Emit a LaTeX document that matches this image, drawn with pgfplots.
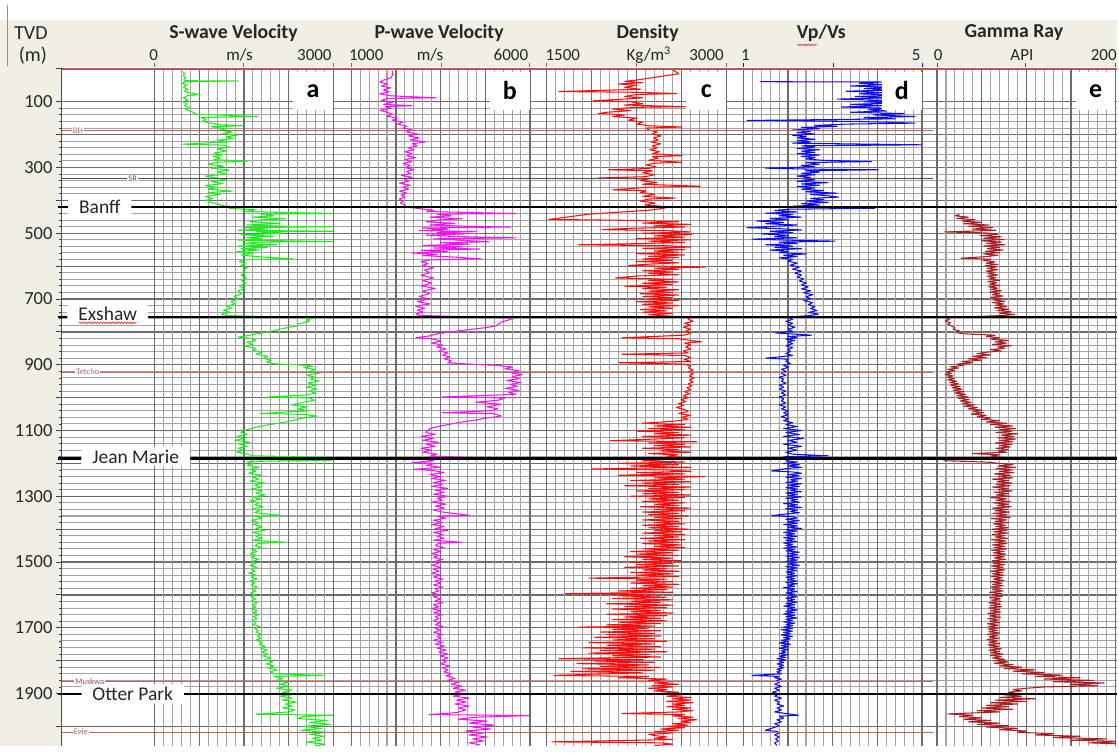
\documentclass[border=0pt]{standalone}
\usepackage{pgfplots}
\pgfplotsset{compat=1.18}
\usepackage{fontspec}
\setmainfont{Carlito}
\usetikzlibrary{decorations.pathmorphing}

\definecolor{hdrbg}{RGB}{240,238,229}
\definecolor{gridminor}{RGB}{163,163,163}
\definecolor{gridmajor}{RGB}{108,108,108}
\definecolor{vsgreen}{RGB}{30,238,30}
\definecolor{vpmag}{RGB}{245,20,245}
\definecolor{rhored}{RGB}{250,15,15}
\definecolor{ratioblue}{RGB}{15,15,235}
\definecolor{grbrown}{RGB}{168,32,36}
\definecolor{topred}{RGB}{190,85,85}
\definecolor{markred}{RGB}{200,95,95}
\definecolor{winblue}{RGB}{120,150,190}

\pgfplotsset{
  logtrack/.style={
    scale only axis, height=679pt, anchor=north west,
    ymin=0, ymax=2061, y dir=reverse, enlargelimits=false,
    ytick=\empty, xticklabels={}, yticklabels={},
    axis line style={draw=none}, tick style={draw=none},
    minor x tick num=4, grid=both,
    major grid style={gridmajor, line width=1.25pt},
    minor grid style={gridminor, line width=1.05pt},
  },
  curve/.style={#1, line width=1.05pt, line join=round},
}
\tikzset{
  trackletter/.style={fill=white, anchor=north east, minimum width=40pt,
    minimum height=38pt, inner sep=0pt, font=\bfseries\fontsize{26}{26}\selectfont},
}

\begin{document}
\begin{tikzpicture}
\begin{scope}[x=1pt,y=-1pt]
  \useasboundingbox (0,0) rectangle (1119,748);
  \fill[white] (0,0) rectangle (1119,748);
  \fill[hdrbg] (0,20) rectangle (1119,67);
  \fill[hdrbg] (0,67) rectangle (62,748);
  \draw[winblue, line width=0.8pt] (7,5) -- (7,66);
\end{scope}

% depth axis with the horizontal grid
\begin{axis}[
  scale only axis, at={(62pt,-69pt)}, anchor=north west,
  width=1057pt, height=679pt,
  xmin=62, xmax=1119, ymin=0, ymax=2061, y dir=reverse, enlargelimits=false,
  axis x line=none, axis y line*=left,
  y axis line style={black!70, line width=0.8pt},
  xtick=\empty,
  ytick={100,300,...,1900},
  extra y ticks={0,200,...,2000}, extra y tick labels={},
  minor y tick num=9,
  ymajorgrids, yminorgrids,
  major grid style={gridmajor, line width=1.25pt},
  minor grid style={gridminor, line width=1.05pt},
  tick align=outside, major tick length=6pt, minor tick length=3pt,
  tick style={black!75, line width=0.8pt},
  /pgf/number format/assume math mode=true,
  /pgf/number format/1000 sep={},
  yticklabel style={font=\fontsize{18.5}{19}\selectfont, black!85},
]
\end{axis}

% a: S-wave velocity
\begin{axis}[logtrack, at={(155pt,-69pt)}, width=179pt,
  xmin=0, xmax=3000, xtick={0,750,1500,2250,3000}]
\addplot[curve=vsgreen] coordinates {
(470,8) (500,14) (480,20) (520,26) (490,32) (510,36) (1400,37) (520,39) (460,44) (540,50) (480,56) (560,62) (500,68) (600,74) (760,78) (540,82) (480,88) (560,94) (470,100) (540,106) (500,112) (580,118) (520,124) (620,130) (700,138) (1735,145) (780,148) (860,154) (800,160) (950,165) (1100,170) (1470,173) (950,176) (1200,182) (1080,187) (1300,192) (1150,197) (1380,202) (1200,207) (1330,212) (1050,217) (1250,222) (470,229) (1150,232) (1250,238) (1050,244) (1200,250) (1000,256) (1150,261) (980,266) (1100,271) (1000,276) (1550,281) (1050,284) (900,290) (1150,296) (950,302) (1250,308) (1050,314) (1200,320) (850,326) (1000,331) (1200,337) (950,343) (1150,349) (850,355) (1050,361) (900,366) (1300,372) (900,376) (1100,382) (850,388) (980,394) (860,400) (950,406) (1050,411) (1150,416) (1300,420)
(1250,424) (1700,429) (1500,434) (3000,440) (1800,442) (2000,447) (1650,451) (2200,456) (1750,460) (1600,465) (2100,470) (1550,475) (2250,479) (3000,480) (1500,483) (1900,487) (1400,491) (3000,494) (1700,496) (2150,500) (1450,505) (2000,509) (1550,513) (1800,517) (1400,521) (3000,525) (1750,527) (1500,531) (2050,535) (1400,539) (1900,543) (1450,547) (1750,551) (1380,556) (1650,561) (1450,566) (1700,571) (2330,578) (1500,580) (1420,586) (1520,592) (1450,598) (1550,605) (1480,612) (1520,620) (1450,628) (1540,636) (1460,644) (1530,652) (1420,660) (1500,668) (1400,676) (1460,684) (1330,692) (1420,700) (1280,708) (1350,715) (1200,722) (1300,728) (1150,734) (1250,740) (1120,746) (1180,750)
(2650,758) (2550,764) (2600,768) (2400,776) (2390,782) (2200,788) (2050,794) (1900,800) (1750,805) (1600,810) (1400,816) (1620,820) (1700,826) (1550,832) (1650,838) (1520,844) (1700,850) (1650,856) (1800,862) (1700,868) (1900,874) (1820,880) (1950,886) (1880,892) (2000,897) (2400,900) (2650,904) (2500,909) (2700,914) (2600,920) (2750,926) (2550,932) (2700,938) (2620,944) (2750,950) (2580,956) (2700,962) (2550,968) (2720,974) (2600,980) (2700,986) (2550,992) (1900,998) (2600,1001) (2680,1008) (2500,1014) (2300,1022) (2550,1028) (2400,1034) (2600,1040) (1780,1048) (2500,1051) (2720,1056) (2500,1062) (2350,1068) (2200,1074) (2000,1080) (1800,1086) (1650,1092) (1500,1100) (1450,1106) (1550,1112) (1380,1118) (1500,1124) (1350,1130) (1600,1136) (1420,1142) (1550,1148) (1400,1154) (1500,1160) (1380,1166) (1550,1172) (1650,1177) (3000,1182) (1500,1185)
(2950,1191) (1550,1194) (1650,1200) (1550,1206) (1750,1212) (1600,1218) (1700,1224) (1580,1230) (1800,1236) (1650,1242) (1750,1248) (1600,1254) (1850,1260) (1680,1266) (1780,1272) (1620,1278) (1800,1284) (1700,1290) (1850,1296) (1650,1302) (1780,1308) (1600,1314) (1750,1320) (1680,1326) (1820,1332) (1640,1338) (1760,1344) (1680,1350) (2100,1358) (1700,1361) (1800,1367) (1620,1373) (1750,1380) (1660,1386) (1800,1392) (1700,1398) (1850,1404) (1650,1410) (1780,1416) (1700,1422) (1800,1428) (1650,1434) (2200,1440) (1750,1443) (1680,1450) (1800,1456) (1620,1462) (1720,1468) (1600,1474) (1700,1480) (1620,1486) (1750,1492) (1640,1498) (1700,1504) (1600,1510) (1720,1516) (1630,1522) (1680,1528) (1580,1534) (1700,1540) (1620,1546) (1720,1552) (1600,1558) (1680,1564) (1620,1570) (1720,1576) (1640,1582) (1700,1588) (1610,1594) (1690,1600) (1620,1606) (1700,1612) (1630,1618) (1720,1624) (1650,1630) (1700,1636) (1620,1642) (1720,1648) (1650,1654) (1740,1660) (1660,1666) (1720,1672) (1640,1678) (1700,1684) (1660,1690) (1760,1696) (1680,1702) (1740,1708) (1700,1714) (1800,1720) (1720,1726) (1780,1732) (1700,1738) (1800,1744) (1760,1750) (1850,1756) (1780,1762) (1880,1768) (1800,1774) (1900,1780) (1820,1786) (1950,1792) (1850,1798) (1980,1804) (1880,1810) (2000,1816) (1900,1822) (2050,1828) (1950,1834) (2000,1840) (2830,1845) (2000,1848) (2150,1854) (2050,1860) (2250,1866) (2100,1872) (2250,1878) (2050,1884) (2300,1890) (2150,1896) (2350,1902) (2100,1908) (2300,1914) (2150,1920) (2380,1926) (2200,1932) (2300,1938) (2150,1944) (2350,1950) (2250,1956) (1700,1963) (3000,1966) (2500,1970) (2400,1976) (2900,1982) (2600,1988) (2950,1994) (2500,2000) (2800,2006) (2450,2012) (2900,2018) (2600,2024) (2850,2030) (2650,2036) (2800,2042) (2550,2048) (2850,2054) (2700,2060)
};
\node[trackletter] at (axis cs:3000,9) {a};
\end{axis}

% b: P-wave velocity
\begin{axis}[logtrack, at={(352pt,-69pt)}, width=179pt,
  xmin=1000, xmax=6000, xtick={1000,2250,3500,4750,6000}]
\addplot[curve=vpmag] coordinates {
(2150,5) (2150,20) (2100,28) (1900,34) (1800,40) (2000,46) (1850,52) (2100,58) (1900,64) (2050,70) (1800,76) (2100,82) (3365,88) (2000,90) (1850,96) (2150,102) (1900,108) (2700,112) (1950,115) (2100,120) (1800,126) (2000,132) (2150,138) (2000,144) (2300,150) (2150,156) (2434,162) (2300,168) (2550,174) (2450,180) (2700,186) (2550,192) (2850,198) (2600,204) (2900,210) (2650,216) (3085,222) (2700,228) (2850,234) (2600,240) (2750,246) (2500,252) (2700,258) (2550,264) (2800,270) (2500,276) (2700,282) (2450,288) (2650,294) (2500,300) (2750,306) (2550,312) (2650,318) (2400,324) (2700,330) (2500,336) (2600,342) (2350,348) (2650,354) (2450,360) (2600,366) (2350,372) (2550,378) (2400,384) (2500,390) (2340,396) (2450,402) (2380,408) (2500,414) (2527,420)
(2900,425) (3300,430) (3100,434) (5600,440) (3400,442) (3800,447) (3200,451) (4100,456) (3400,460) (3100,465) (3900,470) (3200,475) (4300,479) (5450,481) (3000,484) (3700,488) (2900,492) (4500,495) (3400,498) (4200,502) (3100,506) (3900,510) (5600,514) (3300,517) (4000,521) (4850,526) (3500,529) (4300,533) (3000,537) (4100,541) (3300,545) (4600,548) (2950,552) (3700,556) (2700,560) (3400,564) (3000,568) (3800,572) (4650,578) (3200,581) (2950,586) (3150,592) (3000,598) (3300,605) (3050,612) (3200,620) (2950,628) (3300,636) (3000,644) (3250,652) (2950,660) (3350,668) (3000,676) (3200,684) (2900,692) (3150,700) (2850,708) (3200,715) (2800,722) (3050,728) (2850,734) (3000,740) (2810,746) (2900,750)
(5550,758) (5400,764) (5200,770) (5040,782) (4700,788) (4200,794) (3800,800) (3400,806) (3200,812) (2806,818) (3300,822) (3500,828) (3250,834) (3550,840) (3400,846) (3650,852) (3450,858) (3700,864) (3550,870) (3750,876) (3600,882) (3800,888) (3700,894) (4300,898) (5100,902) (5500,907) (5300,912) (5700,918) (5450,924) (5785,930) (5500,936) (5700,942) (5350,948) (5750,954) (5450,960) (5650,966) (5300,972) (5700,978) (5400,984) (5600,990) (3550,998) (5300,1001) (5100,1008) (4500,1014) (5200,1020) (4800,1028) (5100,1034) (4900,1040) (3550,1046) (5000,1049) (5200,1056) (4800,1062) (4500,1068) (4100,1074) (3800,1080) (3500,1086) (3200,1094) (3085,1106) (3350,1112) (2950,1118) (3300,1124) (3000,1130) (3450,1136) (3100,1142) (3350,1148) (2950,1154) (3250,1160) (3000,1166) (3400,1172) (3200,1178) (5600,1185) (3100,1188)
(3300,1192) (2713,1198) (3350,1200) (3100,1206) (3500,1212) (2750,1218) (3300,1222) (3600,1228) (3200,1234) (3500,1240) (3250,1246) (3650,1252) (3300,1258) (3550,1264) (3250,1270) (3700,1276) (3350,1282) (3600,1288) (3300,1294) (3700,1300) (3400,1306) (3550,1312) (3250,1318) (3650,1324) (3350,1330) (3600,1336) (3300,1342) (3550,1348) (4300,1358) (3400,1361) (3650,1367) (3300,1373) (3550,1380) (3250,1386) (3600,1392) (3350,1398) (3700,1404) (3300,1410) (3550,1416) (3400,1422) (3600,1428) (3300,1434) (4100,1440) (3450,1443) (3350,1450) (3600,1456) (3300,1462) (3500,1468) (3250,1474) (3450,1480) (3300,1486) (3550,1492) (3350,1498) (3450,1504) (3250,1510) (3500,1516) (3300,1522) (3450,1528) (3250,1534) (3500,1540) (3300,1546) (3550,1552) (3350,1558) (3500,1564) (3300,1570) (3550,1576) (3350,1582) (3450,1588) (3250,1594) (3500,1600) (3300,1606) (3500,1612) (3350,1618) (3550,1624) (3300,1630) (3450,1636) (3250,1642) (3500,1648) (3300,1654) (3550,1660) (3350,1666) (3450,1672) (3300,1678) (3500,1684) (3350,1690) (3550,1696) (3350,1702) (3500,1708) (3300,1714) (3550,1720) (3400,1726) (3500,1732) (3300,1738) (3550,1744) (3350,1750) (3600,1756) (3400,1762) (3650,1768) (3450,1774) (3700,1780) (3500,1786) (3700,1792) (3550,1798) (3650,1804) (3500,1810) (3750,1816) (3550,1822) (3700,1828) (3600,1834) (3800,1840) (3650,1846) (3900,1854) (3700,1860) (4000,1866) (3800,1872) (4100,1878) (3850,1884) (4200,1890) (3900,1896) (4150,1902) (3850,1908) (4300,1914) (3950,1920) (4200,1926) (3900,1932) (4300,1938) (4000,1944) (4200,1950) (3950,1958) (3178,1964) (5970,1967) (4500,1972) (4000,1978) (4800,1984) (4300,1990) (5000,1996) (4400,2002) (4900,2008) (4200,2014) (4700,2020) (4300,2026) (4800,2032) (4400,2038) (4700,2044) (4300,2050) (4600,2056)
};
\node[trackletter] at (axis cs:6000,9) {b};
\end{axis}

% c: density
\begin{axis}[logtrack, at={(548pt,-69pt)}, width=180pt,
  xmin=1500, xmax=3000, xtick={1500,1875,2250,2625,3000}]
\addplot[curve=rhored] coordinates {
(2540,0) (2600,15) (2250,34) (2150,38) (2300,42) (2100,46) (2250,50) (2150,56) (2280,62) (1600,69) (2200,71) (2586,75) (2250,78) (2150,84) (2300,88) (2100,93) (1890,97) (2200,100) (2300,106) (2150,110) (2655,115) (2250,117) (2050,122) (2200,127) (2000,132) (1930,136) (2150,140) (2050,145) (2250,150) (2180,156) (2300,162) (2250,168) (2350,173) (2628,177) (2330,180) (2350,186) (2420,192) (2380,198) (2450,204) (2390,210) (2430,216) (2370,222) (2450,228) (2380,234) (2420,240) (2360,246) (2440,252) (2380,258) (2627,264) (2380,267) (2430,272) (2350,278) (2627,284) (2400,287) (2330,292) (2410,298) (2350,303) (2016,307) (2380,310) (2300,316) (2400,322) (2320,328) (1933,332) (2350,335) (2280,340) (2420,346) (2300,351) (2780,357) (2350,360) (2050,368) (2330,371) (2280,376) (2400,382) (2300,388) (2572,393) (2350,396) (2280,402) (2400,408) (2320,414) (2450,418) (2480,424) (2350,430) (1850,442) (1516,458)
(2250,461) (2600,465) (2300,469) (2700,473) (2400,477) (2650,481) (2200,485) (1960,489) (2500,492) (2700,496) (2300,500) (2711,504) (2400,508) (2650,512) (2250,516) (2700,520) (2350,524) (2650,528) (2200,532) (1766,535) (2500,538) (2700,542) (2300,546) (2650,550) (2400,554) (2600,558) (2250,562) (2650,566) (2350,570) (2600,574) (2300,578) (2550,582) (2250,586) (2600,590) (2350,594) (2183,598) (2822,603) (2400,606) (2600,610) (2300,614) (2550,618) (2350,622) (2600,626) (2250,630) (2072,636) (2550,640) (2350,644) (2600,648) (2300,652) (2550,656) (2150,661) (2500,664) (2300,668) (2600,672) (2350,676) (2550,680) (2280,684) (2600,688) (2300,692) (2550,696) (2350,700) (2600,704) (2250,708) (2550,712) (2300,716) (2600,720) (2350,724) (2550,728) (2280,732) (2500,736) (2300,740) (2550,744) (2350,748)
(2700,756) (2680,762) (2720,768) (2650,774) (2700,780) (2640,786) (2700,792) (2660,798) (2700,804) (2650,810) (2127,818) (2600,821) (2700,826) (2790,830) (2650,834) (2700,840) (2660,846) (2700,852) (2640,858) (2680,864) (2127,868) (2650,872) (2700,878) (2650,884) (2700,890) (2100,894) (2650,898) (2700,904) (2680,910) (2720,916) (2680,922) (2720,928) (2690,934) (2730,940) (2690,946) (2720,952) (2680,958) (2710,964) (2670,970) (2700,976) (2650,982) (2690,988) (2640,994) (2680,1000) (2620,1006) (2660,1012) (2600,1018) (2640,1024) (2580,1030) (2650,1036) (2680,1042) (2600,1048) (2700,1054) (2620,1060) (2680,1066) (2550,1072) (2300,1078) (2650,1082) (2400,1086) (2700,1090) (2350,1094) (2650,1098) (2250,1102) (2600,1106) (2400,1110) (2700,1114) (2300,1118) (2650,1122) (2400,1126) (2030,1131) (2750,1134) (2350,1138) (2650,1142) (2400,1146) (2700,1150) (2300,1154) (2600,1158) (2450,1162) (2700,1166) (2350,1170) (2600,1174) (2500,1178) (2650,1182) (2550,1186)
(2300,1192) (2650,1196) (2100,1200) (2600,1204) (2200,1208) (2700,1212) (1877,1217) (2500,1220) (2700,1224) (2250,1228) (2650,1232) (2100,1236) (2822,1240) (2400,1244) (2650,1248) (2200,1252) (2700,1256) (2300,1260) (2600,1264) (2150,1268) (2700,1272) (2350,1276) (2650,1280) (2250,1284) (2600,1288) (2300,1292) (2700,1296) (2200,1300) (2650,1304) (2350,1308) (2600,1312) (2300,1316) (2650,1320) (2400,1324) (2600,1328) (2280,1332) (2700,1336) (2400,1340) (2650,1344) (2300,1348) (2600,1352) (2350,1356) (2680,1360) (2400,1364) (2620,1368) (2300,1372) (2600,1376) (2400,1380) (2650,1384) (2300,1388) (2600,1392) (2350,1396) (2680,1400) (2400,1404) (2620,1408) (2300,1412) (2650,1416) (2400,1420) (2600,1424) (2280,1428) (2650,1432) (2350,1436) (2600,1440) (2300,1444) (2620,1448) (2400,1452) (2650,1456) (2300,1460) (2600,1464) (2200,1468) (2550,1472) (2250,1476) (2600,1480) (2150,1484) (2550,1488) (2300,1492) (2620,1496) (2200,1500) (2550,1504) (2250,1508) (2600,1512) (2150,1516) (2500,1520) (2300,1524) (2600,1528) (2200,1532) (2550,1536) (2250,1540) (2600,1544) (1850,1549) (2500,1552) (2250,1556) (2550,1560) (2200,1564) (2600,1568) (2300,1572) (2550,1576) (2200,1580) (2500,1584) (2100,1588) (2550,1592) (1655,1596) (2400,1599) (2100,1603) (2500,1607) (2050,1611) (2550,1615) (2200,1619) (2450,1623) (2000,1627) (2550,1631) (2150,1635) (2500,1639) (2050,1643) (2450,1647) (2200,1651) (2550,1655) (2000,1659) (2500,1663) (2150,1667) (2450,1671) (2050,1675) (2500,1679) (2100,1683) (2450,1687) (2000,1691) (2400,1695) (1766,1698) (2350,1701) (2050,1705) (2450,1709) (1950,1713) (2400,1717) (2000,1721) (2450,1725) (1900,1729) (2400,1733) (2050,1737) (2500,1741) (1850,1745) (2400,1749) (2000,1753) (2450,1757) (1800,1761) (2400,1765) (1950,1769) (2500,1773) (1850,1777) (2350,1781) (2050,1785) (2450,1789) (1600,1794) (2300,1797) (1900,1801) (2400,1805) (1750,1809) (2350,1813) (1950,1817) (2450,1821) (1800,1825) (2400,1829) (1700,1833) (2300,1837) (1900,1841) (1560,1845) (2350,1848) (2100,1852) (2500,1856) (2350,1860) (2550,1864) (2400,1868) (2600,1872) (2380,1876) (2550,1880) (2350,1884) (2500,1888) (2400,1892) (2600,1896) (2450,1900) (2620,1904) (2500,1908) (2700,1912) (2550,1916) (2700,1920) (2500,1924) (2720,1928) (2550,1932) (2650,1936) (2500,1940) (2700,1944) (2550,1948) (2720,1952) (2600,1956) (2127,1961) (2650,1964) (2550,1968) (2720,1972) (2600,1976) (2750,1980) (2620,1984) (2700,1988) (2550,1992) (2680,1996) (2500,2000) (2650,2004) (2450,2008) (2600,2012) (2400,2016) (2550,2020) (2350,2024) (2400,2028) (2500,2032) (2400,2036) (2550,2040) (1544,2047) (2450,2050) (2550,2054) (2400,2058)
};
\node[trackletter] at (axis cs:3000,9) {c};
\end{axis}

% d: Vp/Vs
\begin{axis}[logtrack, at={(745pt,-69pt)}, width=179pt,
  xmin=1, xmax=5, xtick={1,2,3,4,5}]
\addplot[curve=ratioblue] coordinates {
(1.37,39) (4.09,40) (3.6,44) (4.2,48) (3.4,52) (4.3,56) (3.7,60) (4.4,64) (3.3,68) (4.1,72) (3.6,76) (4.5,80) (3.5,84) (4.3,88) (3.1,92) (4.2,96) (3.7,100) (4.4,104) (3.4,108) (4.1,112) (3.2,116) (4.3,120) (3.8,124) (4.2,128) (3.4,132) (4.6,136) (3.9,140) (4.84,145) (3.7,148) (4.4,152) (1.08,157) (3.6,160) (4.84,165) (3.3,168) (2.6,172) (3.1,175) (2.3,178) (2.7,182) (2.1,186) (2.5,190) (2.2,194) (2.6,198) (2.1,202) (2.4,206) (2.2,210) (2.6,214) (2.2,218) (2.5,222) (2.1,226) (4.99,231) (2.3,234) (2.6,238) (2.2,242) (2.7,246) (2.3,250) (2.6,254) (2.2,258) (2.7,262) (2.3,266) (2.6,270) (2.4,274) (2.75,278) (3.87,282) (2.4,285) (2.7,290) (2.3,294) (2.6,298) (1.49,302) (2.5,305) (4.02,307) (2.4,310) (2.7,314) (2.3,318) (2.6,322) (2.2,326) (2.5,330) (2.3,334) (2.6,338) (2.2,342) (2.9,346) (2.3,350) (2.7,354) (2.2,358) (2.6,362) (2.3,366) (2.8,370) (2.4,374) (3.1,378) (2.5,382) (2.9,386) (3.13,390) (2.5,394) (2.8,398) (2.4,402) (2.9,406) (2.3,410) (2.7,414) (2.1,418)
(3.94,424) (2.0,427) (1.7,431) (2.2,435) (1.5,439) (2.1,443) (1.8,447) (2.3,451) (1.6,455) (2.0,459) (1.3,463) (1.9,467) (1.5,471) (2.2,475) (1.7,479) (1.08,483) (1.8,486) (2.3,490) (1.6,494) (2.1,498) (1.4,502) (2.0,506) (1.7,510) (2.2,514) (1.19,518) (2.0,521) (3.05,524) (1.8,527) (2.2,531) (1.5,535) (2.1,539) (1.7,543) (2.3,547) (1.6,551) (2.0,555) (1.8,559) (2.4,563) (1.9,567) (2.2,571) (1.8,575) (2.1,579) (2.0,585) (2.2,591) (2.05,597) (2.25,603) (2.1,609) (2.3,615) (2.15,621) (2.3,627) (2.2,633) (2.35,639) (2.25,645) (2.4,651) (2.3,657) (2.45,663) (2.3,669) (2.5,675) (2.35,681) (2.55,687) (2.4,693) (2.5,699) (2.35,705) (2.55,711) (2.45,717) (2.6,723) (2.5,729) (2.65,735) (2.45,741) (2.68,746) (2.5,750)
(2.0,756) (2.1,762) (1.95,768) (2.1,774) (2.0,780) (2.15,786) (2.0,792) (2.1,798) (1.71,803) (2.05,806) (2.53,810) (2.0,814) (2.2,818) (1.95,822) (2.15,826) (2.0,830) (2.1,836) (1.95,842) (2.1,848) (2.0,854) (2.05,860) (1.95,866) (2.1,872) (1.5,880) (2.0,883) (1.95,890) (2.05,896) (1.9,902) (2.0,908) (1.85,914) (1.95,920) (1.85,926) (1.95,932) (1.8,938) (1.9,944) (1.85,950) (1.95,956) (1.8,962) (1.9,968) (1.8,974) (1.95,980) (1.85,986) (1.95,992) (1.8,998) (1.9,1004) (1.85,1010) (1.95,1016) (1.8,1022) (1.95,1028) (1.85,1034) (2.0,1040) (1.9,1046) (2.0,1052) (1.85,1058) (2.0,1064) (1.9,1070) (2.1,1076) (1.95,1082) (2.2,1088) (1.9,1094) (2.3,1100) (1.95,1106) (2.25,1112) (1.9,1118) (2.35,1124) (2.0,1130) (2.2,1136) (1.9,1142) (2.3,1148) (2.0,1154) (2.2,1160) (1.95,1166) (2.1,1172) (2.9,1177) (1.9,1180) (2.0,1186)
(1.95,1192) (2.2,1196) (1.9,1200) (2.25,1204) (2.0,1208) (2.3,1212) (1.95,1216) (1.63,1223) (2.1,1226) (2.3,1230) (2.0,1234) (2.25,1238) (1.95,1242) (2.3,1246) (2.05,1250) (2.2,1254) (1.95,1258) (2.3,1262) (2.0,1266) (2.25,1270) (1.95,1274) (2.2,1278) (2.05,1282) (2.3,1286) (1.95,1290) (2.2,1294) (2.0,1298) (2.3,1302) (1.95,1306) (2.2,1310) (2.05,1314) (2.25,1318) (1.9,1322) (2.2,1326) (2.0,1330) (2.3,1334) (1.95,1338) (2.2,1342) (2.05,1346) (2.25,1350) (1.95,1354) (1.63,1359) (2.1,1362) (2.2,1366) (1.95,1370) (2.25,1374) (2.0,1378) (2.2,1382) (1.9,1386) (2.2,1390) (2.0,1394) (2.3,1398) (1.95,1402) (2.2,1406) (1.9,1410) (2.15,1414) (1.95,1418) (2.2,1422) (1.9,1426) (2.15,1430) (1.95,1434) (2.2,1438) (1.9,1442) (2.1,1446) (1.95,1450) (2.2,1454) (1.9,1458) (2.15,1462) (1.95,1466) (2.25,1470) (2.0,1474) (2.2,1478) (1.95,1482) (2.25,1486) (2.0,1490) (2.2,1494) (1.95,1498) (2.2,1502) (2.0,1506) (2.25,1510) (1.95,1514) (2.2,1518) (2.0,1522) (2.2,1526) (1.95,1530) (2.15,1534) (2.0,1538) (2.2,1542) (1.95,1546) (2.15,1550) (2.0,1554) (2.2,1558) (1.95,1562) (2.2,1566) (2.0,1570) (2.15,1574) (1.9,1578) (2.15,1582) (2.0,1586) (2.2,1590) (1.95,1594) (2.15,1598) (2.0,1602) (2.2,1606) (1.95,1610) (2.15,1614) (2.0,1618) (2.2,1622) (1.95,1626) (2.15,1630) (1.9,1634) (2.15,1638) (2.0,1642) (2.2,1646) (1.95,1650) (2.15,1654) (1.9,1658) (2.15,1662) (1.95,1666) (2.2,1670) (1.95,1674) (2.1,1678) (1.9,1682) (2.15,1686) (1.95,1690) (2.1,1694) (1.9,1698) (2.1,1702) (1.85,1706) (2.1,1710) (1.9,1714) (2.05,1718) (1.85,1722) (2.1,1726) (1.9,1730) (2.05,1734) (1.85,1738) (2.0,1742) (1.8,1746) (2.05,1750) (1.85,1754) (2.0,1758) (1.8,1762) (2.0,1766) (1.85,1770) (1.95,1774) (1.8,1778) (2.0,1782) (1.8,1786) (1.95,1790) (1.75,1794) (1.95,1798) (1.8,1802) (1.9,1806) (1.75,1810) (1.9,1814) (1.8,1818) (1.9,1822) (1.75,1826) (1.85,1830) (1.75,1834) (1.85,1840) (1.19,1845) (1.8,1848) (1.7,1852) (1.85,1856) (1.75,1860) (1.8,1866) (1.7,1872) (1.85,1878) (1.7,1884) (1.8,1890) (1.65,1896) (1.8,1902) (1.7,1908) (1.85,1914) (1.7,1920) (1.8,1926) (1.75,1932) (1.9,1938) (1.75,1944) (1.85,1950) (1.7,1956) (2.23,1966) (1.8,1969) (1.9,1975) (1.75,1980) (1.85,1986) (1.7,1992) (1.8,1998) (1.49,2012) (1.75,2015) (1.8,2020) (1.7,2026) (1.8,2032) (1.72,2038) (1.78,2044) (1.7,2050) (1.75,2058)
};
\node[trackletter] at (axis cs:5,9) {d};
\end{axis}

% e: gamma ray
\begin{axis}[logtrack, at={(939pt,-69pt)}, width=179pt,
  xmin=0, xmax=200, xtick={0,50,100,150,200}]
\addplot[curve=grbrown] coordinates {
(25,443) (20,447) (35,451) (22,455) (42,459) (28,463) (50,467) (30,471) (58,475) (35,479) (62,483) (40,487) (66,491) (8.6,496) (55,499) (68,503) (48,507) (72,511) (52,515) (75,519) (50,523) (72,527) (55,531) (76,535) (52,539) (70,543) (56,547) (74,551) (54,555) (70,559) (52,563) (68,567) (55,571) (27,576) (60,579) (52,583) (65,587) (55,591) (68,595) (54,599) (66,603) (56,607) (68,611) (55,615) (65,619) (57,623) (68,627) (56,631) (66,635) (58,639) (70,643) (57,647) (67,651) (59,655) (70,659) (58,663) (68,667) (60,671) (72,675) (59,679) (70,683) (62,687) (74,691) (60,695) (72,699) (63,703) (76,707) (62,711) (75,715) (65,719) (78,723) (64,727) (80,731) (67,735) (83,739) (70,743) (87,747) (75,750)
(10,757) (14,762) (9,767) (15,772) (12,777) (16,782) (20,787) (18,792) (25,797) (22,802) (30,806) (65,810) (55,814) (70,818) (60,822) (80,826) (65,830) (78,834) (62,838) (83,842) (68,846) (76,850) (60,854) (72,858) (55,862) (45,866) (60,870) (40,874) (55,878) (35,882) (50,886) (28,890) (40,894) (22,898) (30,902) (15,906) (24,910) (12,914) (20,918) (10,922) (16,926) (9,930) (18,934) (11,938) (19,942) (12,946) (22,950) (14,954) (24,958) (15,962) (26,966) (17,970) (28,974) (18,978) (30,982) (20,986) (32,990) (22,994) (35,998) (24,1002) (36,1006) (26,1010) (38,1014) (28,1018) (42,1022)
(30,1026) (45,1030) (35,1034) (50,1038) (40,1042) (52,1046) (38,1050) (55,1054) (45,1058) (60,1062) (50,1066) (70,1070) (55,1074) (78,1078) (60,1082) (85,1086) (65,1090) (88,1094) (70,1098) (84,1102) (66,1106) (90,1110) (72,1114) (86,1118) (68,1122) (88,1126) (70,1130) (85,1134) (65,1138) (84,1142) (70,1146) (82,1150) (66,1154) (80,1158) (68,1162) (78,1166) (40,1170) (70,1174) (60,1178) (75,1182) (5,1187) (10,1192) (55,1196) (70,1200) (85,1204) (68,1208) (88,1212) (66,1216) (84,1220) (70,1224) (86,1228) (64,1232) (82,1236) (68,1240) (85,1244) (62,1248) (80,1252) (67,1256) (84,1260)
(66,1264) (82,1268) (62,1272) (80,1276) (68,1280) (84,1284) (64,1288) (80,1292) (66,1296) (82,1300) (60,1304) (78,1308) (66,1312) (82,1316) (63,1320) (80,1324) (67,1328) (83,1332) (62,1336) (79,1340) (65,1344) (81,1348) (63,1352) (78,1356) (66,1360) (82,1364) (61,1368) (78,1372) (65,1376) (80,1380) (63,1384) (77,1388) (66,1392) (80,1396) (62,1400) (78,1404) (64,1408) (79,1412) (62,1416) (76,1420) (65,1424) (79,1428) (61,1432) (77,1436) (64,1440) (78,1444) (62,1448) (76,1452) (64,1456) (78,1460) (61,1464) (75,1468) (63,1472) (77,1476) (61,1480) (75,1484) (64,1488) (77,1492) (62,1496) (75,1500) (63,1504) (76,1508) (61,1512) (74,1516) (63,1520) (76,1524) (60,1528) (74,1532) (62,1536) (75,1540) (61,1544) (73,1548) (63,1552) (75,1556) (60,1560) (73,1564) (62,1568) (74,1572) (60,1576) (72,1580) (62,1584) (74,1588) (59,1592) (72,1596) (61,1600) (73,1604) (59,1608) (71,1612) (61,1616) (72,1620) (58,1624) (71,1628) (60,1632) (72,1636) (58,1640) (70,1644) (60,1648) (71,1652) (57,1656) (70,1660) (59,1664) (71,1668) (57,1672) (69,1676) (59,1680) (70,1684) (56,1688) (69,1692) (58,1696) (70,1700) (57,1704) (68,1708) (58,1712) (70,1716) (56,1720) (68,1724) (58,1728) (69,1732) (56,1736) (68,1740) (58,1744) (70,1748) (57,1752) (69,1756) (59,1760) (72,1764) (58,1768) (70,1772) (60,1776) (74,1780) (60,1784) (72,1788) (62,1792) (76,1796) (63,1800) (80,1804) (64,1808) (85,1812)
(70,1816) (95,1820) (75,1824) (110,1828) (85,1832) (120,1836) (95,1840) (140,1844) (110,1848) (160,1852) (120,1856) (175,1860) (130,1864) (187,1868) (150,1872) (180,1876) (120,1880) (100,1884) (85,1888) (95,1892) (80,1896) (88,1900) (75,1904) (95,1908) (70,1912) (110,1916) (65,1920) (100,1924) (60,1928) (90,1932) (55,1936) (80,1940) (50,1944) (85,1948) (45,1952) (70,1956) (12,1962) (40,1966) (25,1970) (50,1974) (30,1978) (60,1982) (35,1986) (70,1990) (45,1994) (80,1998) (55,2002) (90,2006) (70,2010) (100,2014) (90,2018) (130,2022) (110,2026) (160,2030) (130,2034) (190,2038) (150,2042) (210,2046) (170,2050) (215,2054) (200,2058)
};
\node[trackletter] at (axis cs:200,9) {e};
\end{axis}

% formation tops and markers
\begin{axis}[
  scale only axis, at={(62pt,-69pt)}, anchor=north west,
  width=1057pt, height=679pt,
  xmin=62, xmax=1119, ymin=0, ymax=2061, y dir=reverse,
  enlargelimits=false, hide axis, clip=false,
]
\addplot[markred, line width=0.9pt] coordinates {(62,188) (935,188)};
\addplot[black!70, line width=0.9pt] coordinates {(62,334) (935,334)};
\addplot[markred, line width=0.9pt] coordinates {(62,922) (935,922)};
\addplot[markred, line width=0.9pt] coordinates {(62,1864) (935,1864)};
\addplot[markred, line width=0.9pt] coordinates {(62,2017) (935,2017)};
\addplot[black, line width=2.3pt] coordinates {(58,421) (1119,421)};
\addplot[black, line width=2.3pt] coordinates {(58,754) (1119,754)};
\addplot[black, line width=2.3pt] coordinates {(58,1185) (1119,1185)};
\addplot[black, line width=2.3pt] coordinates {(58,1901) (1119,1901)};
\begin{scope}[every node/.style={fill=white, inner sep=1pt, font=\fontsize{8.5}{9}\selectfont}]
  \node[text=markred] at (axis cs:78,188) {BH};
  \node[text=black!70] at (axis cs:133,334) {SR};
  \node[text=markred] at (axis cs:88,922) {Tetcho};
  \node[text=markred!80!black] at (axis cs:90,1864) {Muskwa};
  \node[text=markred] at (axis cs:81,2017) {Evie};
\end{scope}
\begin{scope}[every node/.style={fill=white, rounded corners=3pt, inner xsep=11pt, inner ysep=3pt,
    font=\fontsize{19.5}{20}\selectfont, text=black!85}]
  \node (banff) at (axis cs:100,421) {Banff};
  \node (exshaw) at (axis cs:108,745) {Exshaw};
  \node at (axis cs:136,1179) {Jean Marie};
  \node at (axis cs:133,1901) {Otter Park};
\end{scope}
\draw[red!80, line width=0.7pt, decorate, decoration={snake, amplitude=0.9pt, segment length=3pt}]
  ([xshift=-29pt,yshift=-9pt]exshaw.center) -- ([xshift=29pt,yshift=-9pt]exshaw.center);
\end{axis}

% header: scales and titles
\begin{scope}[x=1pt,y=-1pt]
  \draw[topred, line width=1.6pt] (62,69) -- (1119,69);
  \foreach \xx in {155,244,334} \draw[vsgreen!80!black, line width=1pt] (\xx,63) -- (\xx,67);
  \foreach \xx in {352,442,531} \draw[vpmag, line width=1pt] (\xx,63) -- (\xx,67);
  \foreach \xx in {548,638,728} \draw[topred, line width=1pt] (\xx,63) -- (\xx,67);
  \foreach \xx in {745,835,924} \draw[ratioblue, line width=1pt] (\xx,63) -- (\xx,67);
  \foreach \xx in {939,1028,1118} \draw[grbrown, line width=1pt] (\xx,63) -- (\xx,67);
  \begin{scope}[every node/.style={font=\fontsize{20}{20}\selectfont, text=black!85, inner sep=0pt}]
    \node at (31,33) {TVD};
    \node at (33,56) {(m)};
  \end{scope}
  \begin{scope}[every node/.style={font=\bfseries\fontsize{19.8}{20}\selectfont, text=black!85, inner sep=0pt}]
    \node at (234,33) {S-wave Velocity};
    \node at (440,33) {P-wave Velocity};
    \node at (649,33) {Density};
    \node (vpvs) at (823,33) {Vp/Vs};
    \node at (1016,33) {Gamma Ray};
  \end{scope}
  \draw[red!80, line width=0.6pt, decorate, decoration={snake, amplitude=0.8pt, segment length=2.5pt}]
    (799,45) -- (819,45);
  \begin{scope}[every node/.style={font=\fontsize{17}{17}\selectfont, text=black!85, inner sep=0pt}]
    \node at (154,55) {0};
    \node at (240,55) {m/s};
    \node at (315,55) {3000};
    \node at (367,55) {1000};
    \node at (431,55) {m/s};
    \node at (512,55) {6000};
    \node at (564,55) {1500};
    \node at (650,55) {Kg/m\textsuperscript{3}};
    \node at (708,55) {3000};
    \node at (747,55) {1};
    \node at (918,55) {5};
    \node at (940,55) {0};
    \node at (1024,55) {API};
    \node at (1106,55) {200};
  \end{scope}
\end{scope}
\end{tikzpicture}
\end{document}
